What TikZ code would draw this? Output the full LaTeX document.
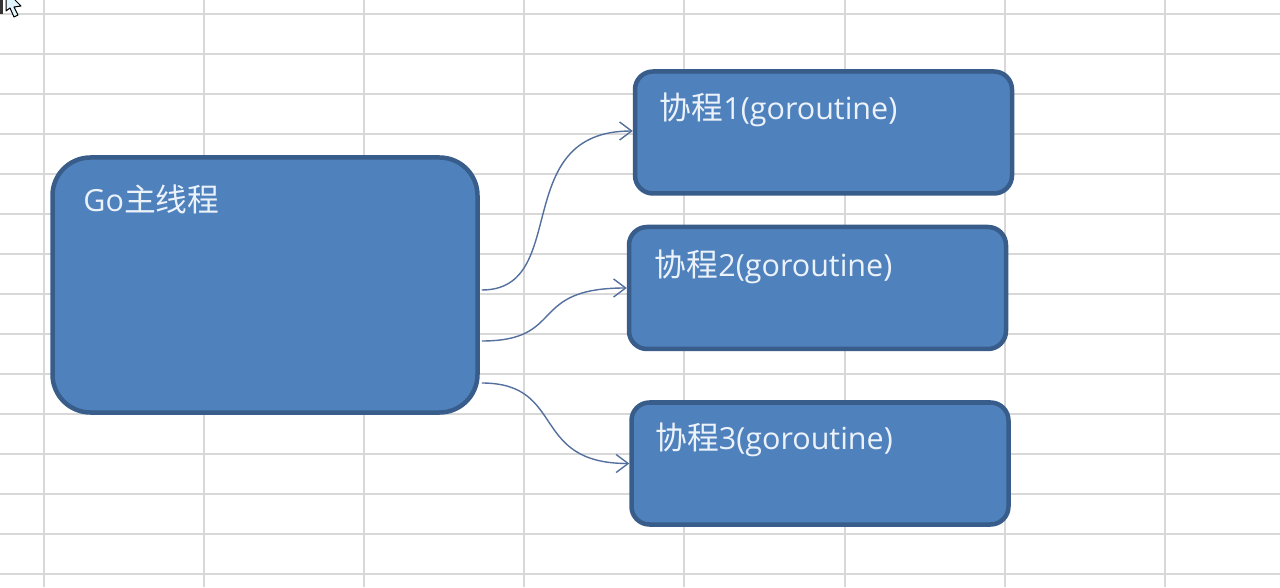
\documentclass[tikz,border=0pt]{standalone}
\usepackage{fontspec}
\setmainfont{Open Sans}
\newfontfamily\cjk[Scale=1.04]{Noto Sans CJK SC}
\usetikzlibrary{arrows.meta}
\definecolor{officeblue}{RGB}{79,129,189}
\definecolor{officeedge}{RGB}{56,93,138}
\definecolor{linkblue}{RGB}{84,112,158}
\definecolor{cellgrid}{RGB}{216,216,216}
\definecolor{paletext}{RGB}{236,242,250}

\begin{document}
\begin{tikzpicture}[
    x=1pt, y=1pt,
    >={Straight Barb[length=12pt,width=18pt]},
    % node styles
    mainbox/.style = {
      draw=officeedge,
      fill=officeblue,
      line width=4.5pt,
      rounded corners=38pt,
      minimum width=425pt,
      minimum height=255pt
    },
    gobox/.style = {
      draw=officeedge,
      fill=officeblue,
      line width=4.5pt,
      rounded corners=18pt,
      minimum width=377pt,
      minimum height=122pt
    },
    lbl/.style = {
      anchor=west,
      inner sep=0pt,
      font=\fontsize{30.5}{36}\selectfont,
      text=paletext
    },
    % line styles
    gridline/.style = {draw=cellgrid, line width=1.2pt},
    arr/.style = {->, line width=1.4pt, draw=linkblue}
  ]

  \useasboundingbox (0,0) rectangle (1280,587);
  \fill[white] (0,0) rectangle (1280,587);

  % --- Sheet grid
  \foreach \x in {44,204,364,524,684,845,1005,1165}
    \draw[gridline] (\x,0) -- (\x,587);
  \foreach \k in {0,...,14}
    \draw[gridline] (0,{573-40*\k}) -- (1280,{573-40*\k});

  % --- Cursor
  \fill[black!80] (0,587) rectangle (3,573);
  \draw[fill=cyan!12, line width=1pt, line join=round]
    (6,587) -- (6,576) -- (10,579) -- (14,570) -- (18,572) -- (14,580) -- (21,581) -- (15,587);

  % --- Nodes
  \node[mainbox] (main) at (265,302) {};
  \node[gobox] (p1) at (823.5,454.5) {};
  \node[gobox] (p2) at (817.5,299) {};
  \node[gobox] (p3) at (820,123.5) {};

  \node[lbl] (tmain) at ([xshift=33pt,yshift=-44pt]main.north west) {Go{\cjk 主线程}};
  \node[lbl] (t1) at ([xshift=27pt,yshift=-41pt]p1.north west) {{\cjk 协程}1(goroutine)};
  \node[lbl] (t2) at ([xshift=28pt,yshift=-42pt]p2.north west) {{\cjk 协程}2(goroutine)};
  \node[lbl] (t3) at ([xshift=26pt,yshift=-40pt]p3.north west) {{\cjk 协程}3(goroutine)};

  % --- Arrows
  \draw[arr] ([xshift=2pt,yshift=-5pt]main.east)
    .. controls +(90,0) and +(-125,0) .. ([yshift=1.5pt]p1.west);
  \draw[arr] ([xshift=2pt,yshift=-56pt]main.east)
    .. controls +(85,0) and +(-100,0) .. (p2.west);
  \draw[arr] ([xshift=2pt,yshift=-98pt]main.east)
    .. controls +(85,0) and +(-100,0) .. (p3.west);

\end{tikzpicture}
\end{document}
